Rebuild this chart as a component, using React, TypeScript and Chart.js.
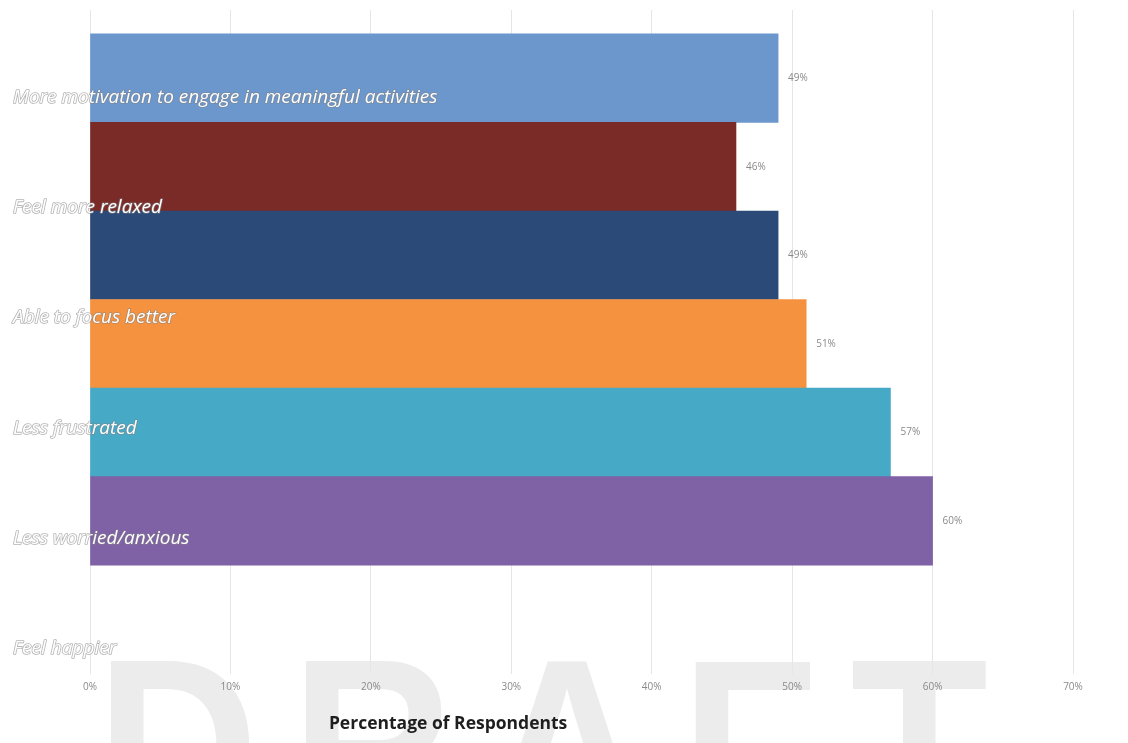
import { useEffect, useRef } from "react";
import { Chart, registerables } from "chart.js";

Chart.register(...registerables);

const categories = [
  "More motivation to engage in meaningful activities",
  "Feel more relaxed",
  "Able to focus better",
  "Less frustrated",
  "Less worried/anxious",
  "Feel happier",
];
const values = [49, 46, 49, 51, 57, 60];
const barColors = ["#6b97cc", "#7a2b28", "#2b4a78", "#f5923f", "#46a9c6", "#7f61a6"];
const xTicks = [0, 10, 20, 30, 40, 50, 60, 70];
const axisTitle = "Percentage of Respondents";
const watermark = "DRAFT";

const backgroundPlugin = {
  id: "bgWatermark",
  beforeDraw(chart: any) {
    const ctx = chart.ctx;
    ctx.save();
    ctx.fillStyle = "#ffffff";
    ctx.fillRect(0, 0, chart.width, chart.height);
    ctx.translate(96, 834);
    ctx.scale(0.9, 1);
    ctx.font = "bold 250px 'Liberation Sans'";
    (ctx as any).letterSpacing = "36px";
    ctx.fillStyle = "#ececec";
    ctx.textAlign = "left";
    ctx.textBaseline = "alphabetic";
    ctx.fillText(watermark, 0, 0);
    ctx.restore();
  },
};

const labelPlugin = {
  id: "labels",
  afterDatasetsDraw(chart: any) {
    const ctx = chart.ctx;
    const meta = chart.getDatasetMeta(0);
    ctx.save();
    ctx.font = "10px 'Open Sans'";
    ctx.fillStyle = "#8a8a8a";
    ctx.textAlign = "left";
    ctx.textBaseline = "middle";
    meta.data.forEach((bar: any, i: number) => {
      ctx.fillText(values[i] + "%", bar.x + 10, bar.y);
    });
    const y2 = chart.scales.y2;
    ctx.font = "italic 19px 'Open Sans'";
    ctx.lineJoin = "round";
    ctx.lineWidth = 1.6;
    ctx.strokeStyle = "rgba(130,130,130,0.6)";
    ctx.fillStyle = "#ffffff";
    categories.forEach((c, i) => {
      const y = y2.getPixelForValue(i);
      ctx.strokeText(c, 13, y);
      ctx.fillText(c, 13, y);
    });
    ctx.restore();
  },
  afterDraw(chart: any) {
    const ctx = chart.ctx;
    const xs = chart.scales.x;
    ctx.save();
    ctx.font = "bold 17.5px 'Open Sans'";
    ctx.fillStyle = "#1e1e1e";
    ctx.textAlign = "center";
    ctx.textBaseline = "middle";
    ctx.fillText(axisTitle, xs.getPixelForValue(25.5), chart.chartArea.bottom + 50);
    ctx.restore();
  },
};

export default function App() {
  const ref = useRef<HTMLCanvasElement | null>(null);

  useEffect(() => {
    if (!ref.current) return;
    const chart = new Chart(ref.current, {
      type: "bar",
      data: {
        datasets: [
          {
            data: values.map((v, i) => ({ x: v, y: i })) as any,
            backgroundColor: barColors,
            borderWidth: 0,
            categoryPercentage: 1,
            barPercentage: 1,
          },
        ],
      },
      options: {
        indexAxis: "y",
        responsive: false,
        animation: false,
        layout: { padding: { left: 90, right: 55, top: 10, bottom: 43 } },
        plugins: { legend: { display: false }, tooltip: { enabled: false } },
        scales: {
          x: {
            type: "linear",
            min: 0,
            max: 70,
            afterBuildTicks: (s: any) => {
              s.ticks = xTicks.map((v) => ({ value: v }));
            },
            ticks: {
              callback: (v: any) => v + "%",
              color: "#8a8a8a",
              font: { family: "'Open Sans'", size: 10 },
              padding: 7,
            },
            grid: { color: "#e6e6e6", drawTicks: false },
            border: { display: false },
          },
          y: {
            type: "linear",
            reverse: true,
            offset: false,
            min: -0.77,
            max: 6.73,
            display: false,
            afterBuildTicks: (s: any) => {
              s.ticks = values.map((_, i) => ({ value: i }));
            },
          },
          y2: {
            type: "linear",
            position: "left",
            reverse: true,
            offset: false,
            min: -0.791,
            max: 5.227,
            display: false,
          },
        } as any,
      },
      plugins: [backgroundPlugin, labelPlugin],
    });
    return () => chart.destroy();
  }, []);

  return (
    <div style={{ position: "fixed", left: 0, top: 0, width: 1128, height: 743, background: "#fff" }}>
      <canvas ref={ref} width={1128} height={743} style={{ display: "block" }} />
    </div>
  );
}
